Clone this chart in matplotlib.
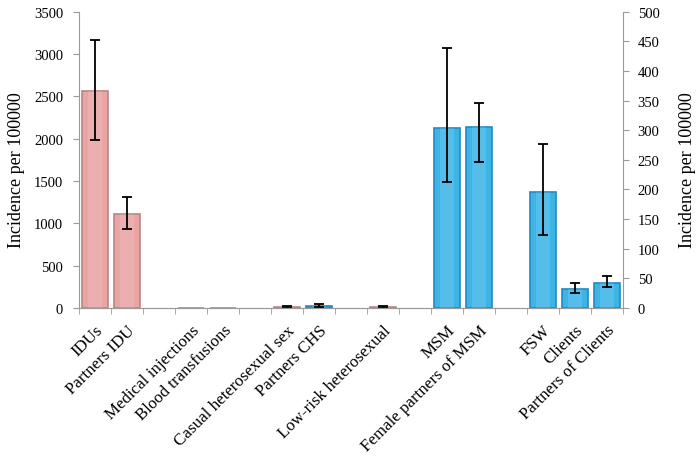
import numpy as np
import matplotlib
matplotlib.use("Agg")
import matplotlib.pyplot as plt

plt.rcParams['font.family'] = ['Liberation Serif', 'DejaVu Serif']

categories = ["IDUs", "Partners IDU", "", "Medical injections", "Blood transfusions", "",
              "Casual heterosexual sex", "Partners CHS", "", "Low-risk heterosexual", "",
              "MSM", "Female partners of MSM", "", "FSW", "Clients", "Partners of Clients"]
nan = np.nan
# left axis (pink) series
left_vals = [2565, 1113, nan, 2, 2, nan, 14, nan, nan, 14, nan, nan, nan, nan, nan, nan, nan]
left_lo   = [1985, 935, nan, nan, nan, nan, 5, nan, nan, 5, nan, nan, nan, nan, nan, nan, nan]
left_hi   = [3165, 1306, nan, nan, nan, nan, 28, nan, nan, 28, nan, nan, nan, nan, nan, nan, nan]
# right axis (blue) series
right_vals = [nan, nan, nan, nan, nan, nan, nan, 3, nan, nan, nan, 304, 305, nan, 195, 32, 43]
right_lo   = [nan, nan, nan, nan, nan, nan, nan, 1, nan, nan, nan, 213, 246, nan, 123, 25, 35]
right_hi   = [nan, nan, nan, nan, nan, nan, nan, 6, nan, nan, nan, 438, 346, nan, 276, 43, 54]

pink_face, pink_edge = "#E9A4A4", "#B98585"
blue_face, blue_edge = "#3DB4E6", "#2389C0"
spine_col = "#9A9A9A"

fig = plt.figure(figsize=(6.99, 4.64), dpi=100)
ax = fig.add_axes([79/699, 1-309/464, (623-79)/699, (309-12.7)/464])
ax2 = ax.twinx()

x = np.arange(len(categories))
w = 0.84

def draw(axis, vals, lo, hi, face, edge):
    vals = np.array(vals, float); lo = np.array(lo, float); hi = np.array(hi, float)
    m = ~np.isnan(vals)
    axis.bar(x[m], vals[m], width=w, color=face, edgecolor=edge, linewidth=1.2, zorder=2)
    # glossy highlight
    axis.bar(x[m], vals[m], width=w*0.55, color="white", alpha=0.12, linewidth=0, zorder=3)
    e = m & ~np.isnan(lo)
    axis.errorbar(x[e], vals[e], yerr=[vals[e]-lo[e], hi[e]-vals[e]], fmt='none',
                  ecolor='black', elinewidth=1.3, capsize=3.5, capthick=1.3, zorder=4)

draw(ax, left_vals, left_lo, left_hi, pink_face, pink_edge)
draw(ax2, right_vals, right_lo, right_hi, blue_face, blue_edge)

ax.set_xlim(-0.5, len(categories)-0.5)
ax.set_ylim(0, 3500)
ax.set_yticks(np.arange(0, 3501, 500))
ax2.set_ylim(0, 500)
ax2.set_yticks(np.arange(0, 501, 50))

ax.set_xticks(x)
ax.set_xticklabels(categories, rotation=45, ha='right', va='top', rotation_mode='anchor', fontsize=12.2)
ax.set_xticks(np.arange(-0.5, len(categories), 1.0), minor=True)
ax.tick_params(axis='x', which='major', length=0, pad=10)
ax.tick_params(axis='x', which='minor', length=4, color=spine_col, direction='out')

for a in (ax, ax2):
    a.spines['top'].set_visible(False)
    for s in ('left', 'right', 'bottom'):
        a.spines[s].set_color(spine_col)
    a.tick_params(axis='y', length=4, color=spine_col, labelsize=10.5)
ax.tick_params(axis='y', pad=7.5)
ax2.tick_params(axis='y', pad=6.5)
ax2.spines['left'].set_visible(False)
ax.spines['right'].set_visible(False)

ax.set_ylabel("Incidence per 100000", fontsize=13)
ax2.set_ylabel("Incidence per 100000", fontsize=13)
ax.yaxis.set_label_coords(-0.1, 0.47)
ax2.yaxis.set_label_coords(1.103, 0.47)

fig.savefig("out.png", dpi=100)
